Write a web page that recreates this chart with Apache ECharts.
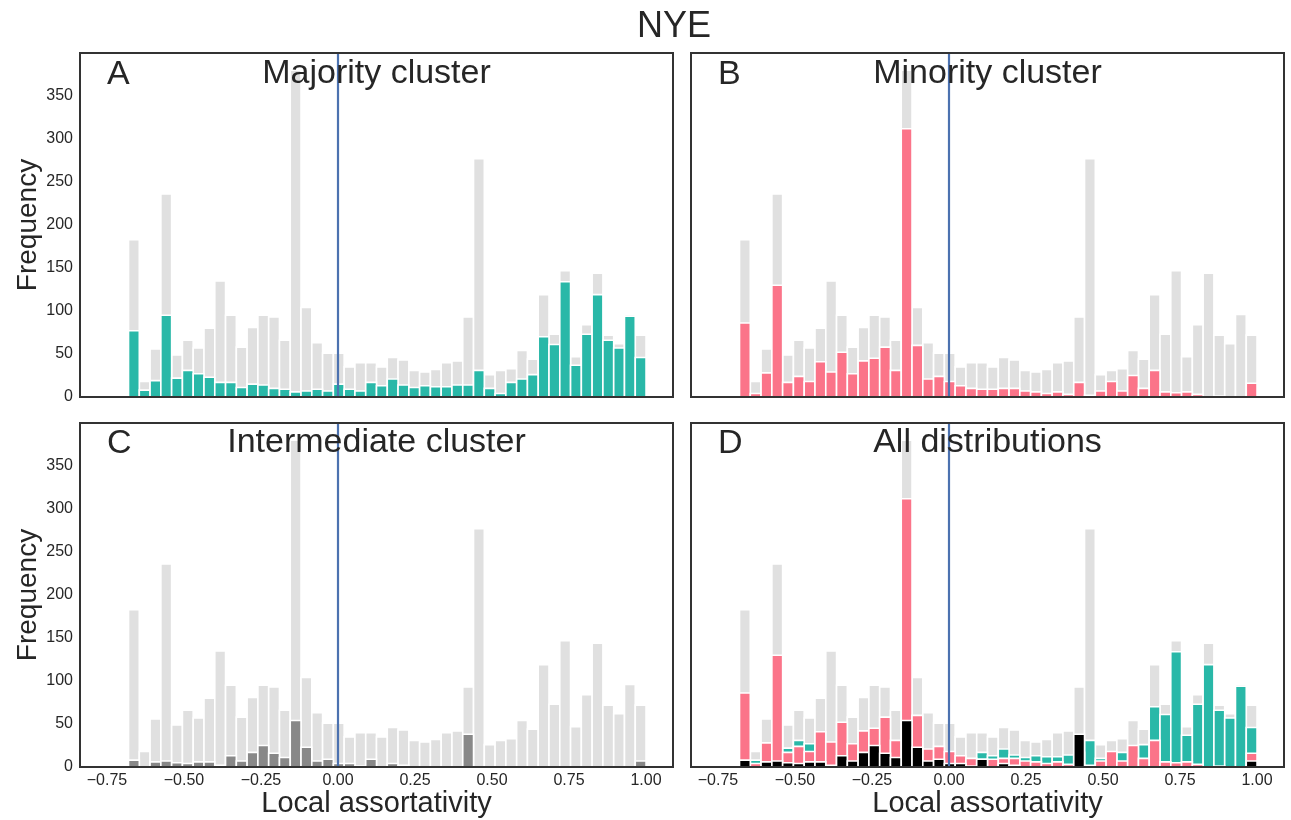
<!DOCTYPE html>
<html>
<head>
<meta charset="utf-8">
<script src="https://cdn.jsdelivr.net/npm/echarts@6/dist/echarts.min.js"></script>
<style>
html,body{margin:0;padding:0;background:#fff;}
#chart{width:1291px;height:820px;}
</style>
</head>
<body>
<div id="chart"></div>
<script>
// ---- data ----
const binStart = -0.68;   // left edge of first non-empty bin
const binWidth = 0.035;
const xTicks = [-0.75, -0.50, -0.25, 0.00, 0.25, 0.50, 0.75, 1.00];
const yTicks = [0, 50, 100, 150, 200, 250, 300, 350];
const panelLetters = ['A', 'B', 'C', 'D'];
const panelTitles = ['Majority cluster', 'Minority cluster', 'Intermediate cluster', 'All distributions'];
const figTitle = 'NYE';

const allCounts = [183, 18, 56, 236, 49, 66, 57, 80, 135, 95, 58, 81, 95, 93, 66, 380,
  104, 63, 51, 51, 35, 40, 40, 35, 46, 43, 31, 29, 32, 40, 42, 93,
  277, 26, 31, 33, 54, 44, 119, 73, 147, 47, 84, 144, 72, 62, 96, 72];
const majorityCounts = [77, 8, 19, 95, 22, 31, 27, 23, 17, 17, 11, 15, 14, 10, 9, 6,
  7, 9, 7, 15, 9, 7, 17, 13, 21, 14, 11, 13, 12, 12, 14, 14,
  31, 10, 4, 17, 21, 26, 70, 61, 134, 37, 73, 119, 66, 57, 94, 46];
const minorityCounts = [86, 4, 28, 130, 17, 24, 18, 41, 29, 52, 27, 42, 45, 58, 31, 312,
  60, 21, 24, 18, 13, 10, 9, 9, 10, 10, 7, 6, 4, 6, 3, 17,
  2, 7, 18, 7, 25, 10, 31, 6, 5, 6, 3, 0, 1, 0, 0, 16];
const intermediateCounts = [8, 0, 6, 7, 5, 4, 6, 6, 2, 13, 7, 17, 25, 16, 11, 54,
  23, 7, 9, 4, 4, 1, 9, 0, 4, 2, 0, 0, 0, 0, 0, 38,
  0, 0, 0, 0, 0, 0, 0, 0, 0, 0, 0, 0, 0, 0, 0, 7];

// ---- styles ----
const C_GRAY = '#e0e0e0', C_TEAL = '#29b8a8', C_PINK = '#fb7489', C_DARK = '#888888', C_BLACK = '#000000';
const TXT = '#262626';
const FONT = '"Liberation Sans", Arial, Helvetica, sans-serif';

function toData(counts) {
  return counts.map((c, i) => [binStart + i * binWidth, binStart + (i + 1) * binWidth, c]);
}

function histSeries(gridIdx, counts, color, withLine) {
  const s = {
    type: 'custom',
    xAxisIndex: gridIdx,
    yAxisIndex: gridIdx,
    clip: true,
    z: 2,
    encode: { x: [0, 1], y: 2 },
    data: toData(counts),
    renderItem: function (params, api) {
      const v = api.value(2);
      if (!(v > 0)) return null;
      const p0 = api.coord([api.value(0), v]);
      const p1 = api.coord([api.value(1), 0]);
      return {
        type: 'rect',
        shape: { x: p0[0], y: p0[1], width: p1[0] - p0[0], height: p1[1] - p0[1] },
        style: { fill: color, stroke: '#ffffff', lineWidth: 1.6 }
      };
    }
  };
  if (withLine) {
    s.markLine = {
      silent: true,
      symbol: ['none', 'none'],
      label: { show: false },
      lineStyle: { color: '#4c72b0', width: 2.2, type: 'solid', opacity: 1 },
      data: [{ xAxis: 0 }],
      z: 5
    };
  }
  return s;
}

const gridPos = [
  { left: 80, top: 53 }, { left: 691, top: 53 },
  { left: 80, top: 423 }, { left: 691, top: 423 }
];
const grids = gridPos.map(p => ({
  left: p.left, top: p.top, width: 593, height: 344,
  show: true, borderColor: '#333333', borderWidth: 2, backgroundColor: 'transparent', z: 10
}));

const xAxes = gridPos.map((p, i) => ({
  type: 'value', gridIndex: i, min: -0.8375, max: 1.0875,
  axisLine: { show: false }, axisTick: { show: false }, splitLine: { show: false },
  axisLabel: {
    show: i >= 2, customValues: xTicks, margin: 6,
    fontSize: 16, color: TXT, fontFamily: FONT,
    formatter: v => (v < 0 ? '\u2212' : '') + Math.abs(v).toFixed(2)
  },
  name: i >= 2 ? 'Local assortativity' : '',
  nameLocation: 'middle', nameGap: 20,
  nameTextStyle: { fontSize: 29, color: TXT, fontFamily: FONT, verticalAlign: 'top' }
}));

const yAxes = gridPos.map((p, i) => ({
  type: 'value', gridIndex: i, min: 0, max: 400, interval: 50,
  axisLine: { show: false }, axisTick: { show: false }, splitLine: { show: false },
  axisLabel: {
    show: i % 2 === 0, margin: 7,
    customValues: yTicks,
    fontSize: 16, color: TXT, fontFamily: FONT
  },
  name: i % 2 === 0 ? 'Frequency' : '',
  nameLocation: 'middle', nameGap: 36,
  nameTextStyle: { fontSize: 28, color: TXT, fontFamily: FONT }
}));

const series = [
  histSeries(0, allCounts, C_GRAY, false),
  histSeries(0, majorityCounts, C_TEAL, true),
  histSeries(1, allCounts, C_GRAY, false),
  histSeries(1, minorityCounts, C_PINK, true),
  histSeries(2, allCounts, C_GRAY, false),
  histSeries(2, intermediateCounts, C_DARK, true),
  histSeries(3, allCounts, C_GRAY, false),
  histSeries(3, majorityCounts, C_TEAL, false),
  histSeries(3, minorityCounts, C_PINK, false),
  histSeries(3, intermediateCounts, C_BLACK, true)
];

const texts = [];
texts.push({ type: 'text', x: 674, y: 27, z: 50,
  style: { text: figTitle, font: '36px ' + FONT, fill: TXT, textAlign: 'center', textVerticalAlign: 'middle' } });
gridPos.forEach((p, i) => {
  const cy = i < 2 ? 74 : 443;
  texts.push({ type: 'text', x: p.left + 27, y: cy + 1, z: 50,
    style: { text: panelLetters[i], font: '34px ' + FONT, fill: TXT, textAlign: 'left', textVerticalAlign: 'middle' } });
  texts.push({ type: 'text', x: p.left + 296.5, y: cy, z: 50,
    style: { text: panelTitles[i], font: '34px ' + FONT, fill: TXT, textAlign: 'center', textVerticalAlign: 'middle' } });
});

const chart = echarts.init(document.getElementById('chart'), null, { renderer: 'canvas' });
chart.setOption({
  animation: false,
  backgroundColor: '#ffffff',
  textStyle: { fontFamily: FONT },
  grid: grids,
  xAxis: xAxes,
  yAxis: yAxes,
  series: series,
  graphic: texts
});
</script>
</body>
</html>
